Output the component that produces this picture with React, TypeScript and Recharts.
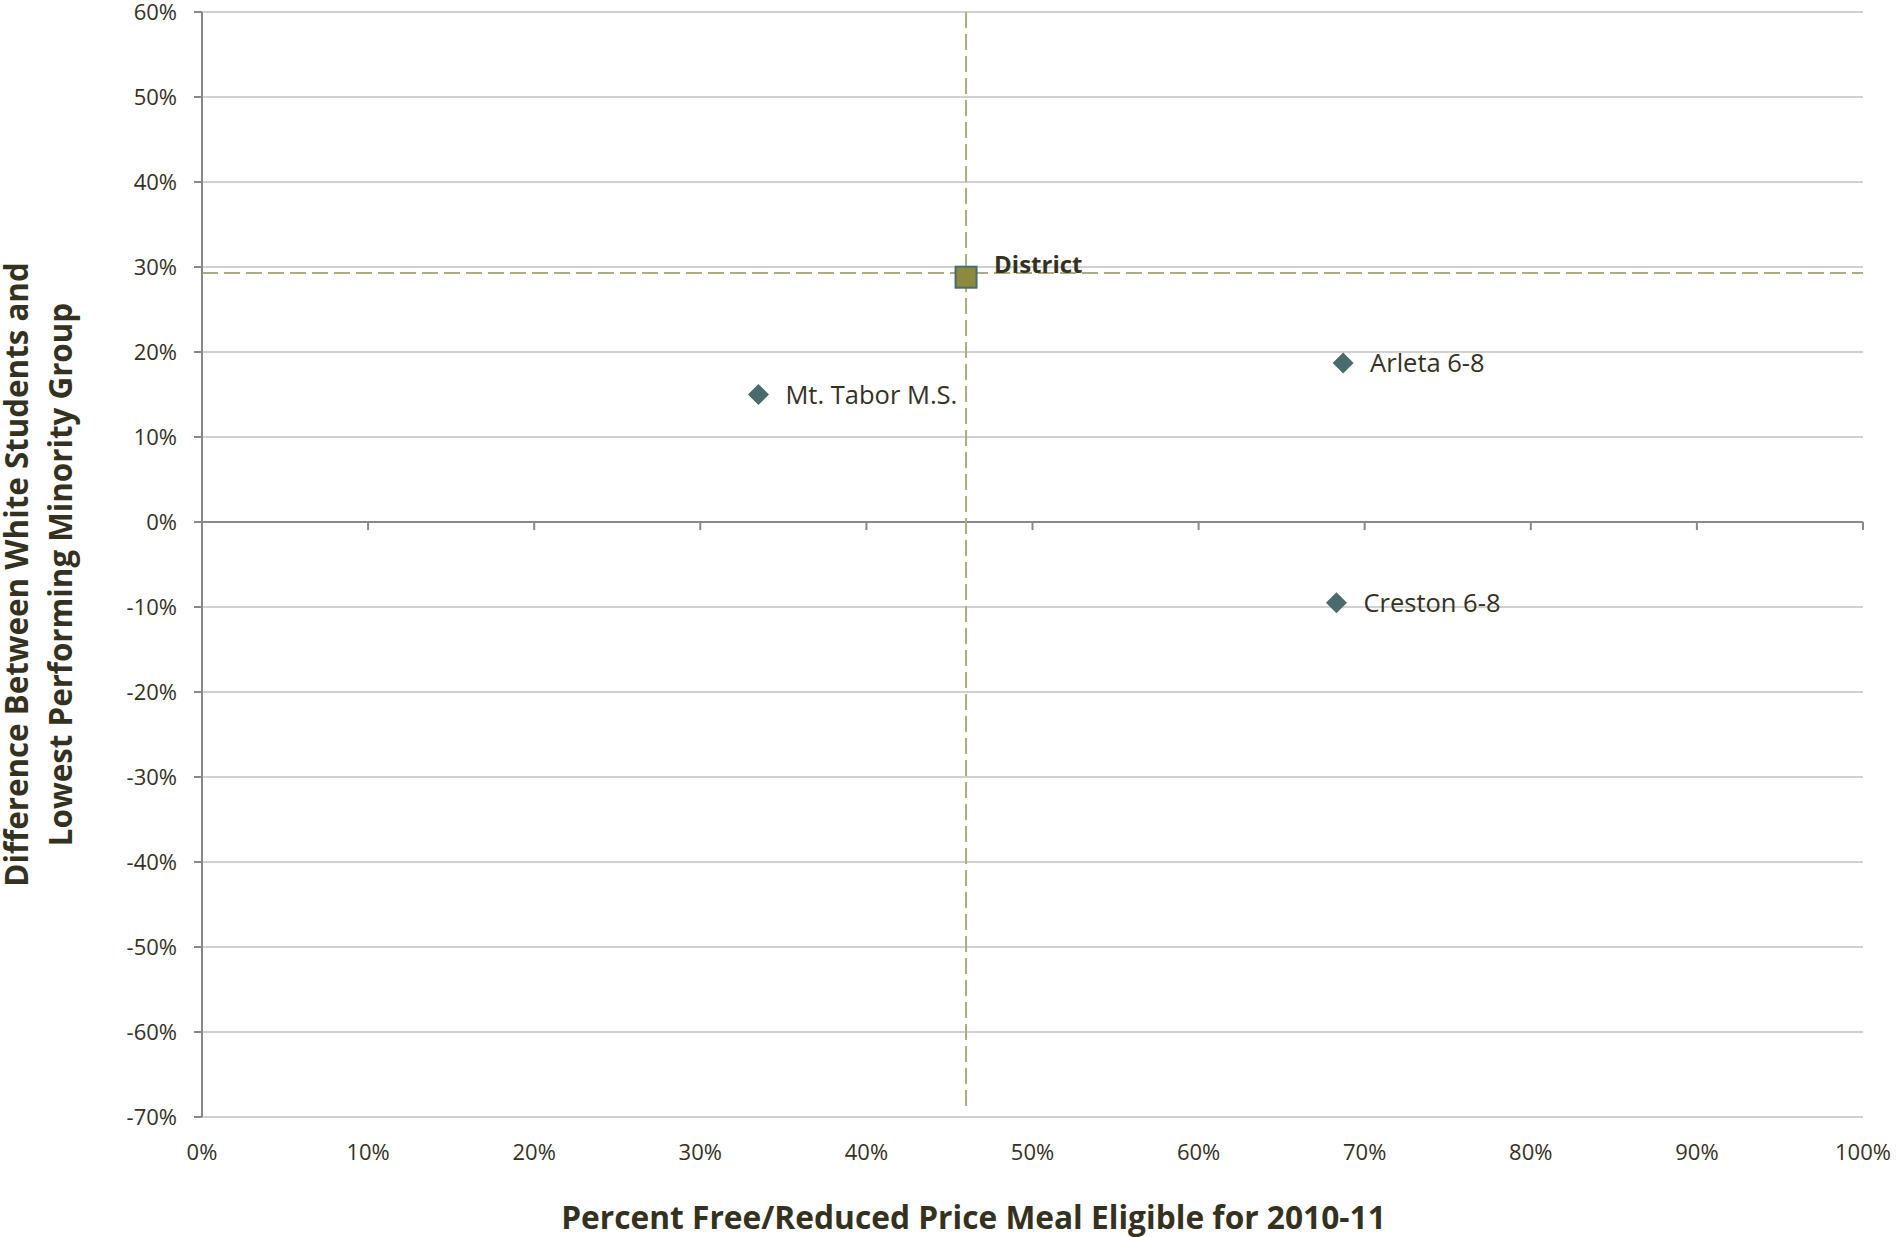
import React from 'react';
import {
  ScatterChart,
  Scatter,
  XAxis,
  YAxis,
  CartesianGrid,
  ReferenceLine,
  Label,
} from 'recharts';

// ---- Data ----
const schoolNames = ['Mt. Tabor M.S.', 'Arleta 6-8', 'Creston 6-8'];
const schoolFrl = [0.335, 0.687, 0.683];
const schoolGap = [0.15, 0.187, -0.095];

const districtNames = ['District'];
const districtFrl = [0.46];
const districtGap = [0.288];

const districtLineX = 0.46;
const districtLineY = 0.293;

const xTicks = [0, 0.1, 0.2, 0.3, 0.4, 0.5, 0.6, 0.7, 0.8, 0.9, 1.0];
const yTicks = [-0.7, -0.6, -0.5, -0.4, -0.3, -0.2, -0.1, 0, 0.1, 0.2, 0.3, 0.4, 0.5, 0.6];

const xTitle = 'Percent Free/Reduced Price Meal Eligible for 2010-11';
const yTitleLines = ['Difference Between White Students and', 'Lowest Performing Minority Group'];

const schoolData = schoolNames.map((name, i) => ({ name, x: schoolFrl[i], y: schoolGap[i] }));
const districtData = districtNames.map((name, i) => ({ name, x: districtFrl[i], y: districtGap[i] }));

const FONT = '"Open Sans", sans-serif';
const TEXT = '#35311f';
const pct = (v: number) => `${Math.round(v * 100)}%`;

const DiamondShape = (props: any) => {
  const { cx, cy, payload } = props;
  const r = 10.5;
  return (
    <g>
      <path
        d={`M${cx},${cy - r} L${cx + r},${cy} L${cx},${cy + r} L${cx - r},${cy} Z`}
        fill="#4a6b6b"
      />
      <text x={cx + 27} y={cy} dy="0.36em" fontFamily={FONT} fontSize={25.5} fill={TEXT}>
        {payload.name}
      </text>
    </g>
  );
};

const SquareShape = (props: any) => {
  const { cx, cy, payload } = props;
  const s = 21;
  return (
    <g>
      <rect x={cx - s / 2} y={cy - s / 2} width={s} height={s} fill="#8c8a3e" stroke="#4b6b6e" strokeWidth={2} />
      <text x={cx + 28} y={cy - 13} dy="0.36em" fontFamily={FONT} fontSize={24} fontWeight="bold" fill={TEXT}>
        {payload.name}
      </text>
    </g>
  );
};

const YTitle = (props: any) => {
  const vb = props.viewBox || { x: 0, y: 0, width: 0, height: 0 };
  const cy = vb.y + vb.height / 2 + 10;
  const xs = [vb.x + 28, vb.x + 72];
  return (
    <g>
      {yTitleLines.map((line, i) => (
        <text
          key={i}
          x={xs[i]}
          y={cy}
          transform={`rotate(-90, ${xs[i]}, ${cy})`}
          textAnchor="middle"
          fontFamily={FONT}
          fontSize={31.3}
          fontWeight="bold"
          fill={TEXT}
        >
          {line}
        </text>
      ))}
    </g>
  );
};

const XTitle = (props: any) => {
  const vb = props.viewBox || { x: 0, y: 0, width: 0, height: 0 };
  const cx = vb.x + vb.width / 2 - 59;
  return (
    <text
      x={cx}
      y={vb.y + 112}
      textAnchor="middle"
      fontFamily={FONT}
      fontSize={31.7}
      fontWeight="bold"
      fill={TEXT}
    >
      {xTitle}
    </text>
  );
};

export default function App() {
  return (
    <div style={{ position: 'absolute', left: 0, top: 0, background: '#fff' }}>
      <ScatterChart
        width={1896}
        height={1237}
        margin={{ top: 12, right: 33, left: 0, bottom: 0 }}
      >
        <CartesianGrid vertical={false} stroke="#c0c0c0" strokeWidth={1.5} />
        <XAxis
          type="number"
          dataKey="x"
          domain={[0, 1]}
          ticks={xTicks}
          tickFormatter={pct}
          axisLine={false}
          tickLine={false}
          tickSize={0}
          tickMargin={27}
          height={120}
          interval={0}
          tick={{ fontFamily: FONT, fontSize: 22, fill: TEXT }}
        >
          <Label content={<XTitle />} />
        </XAxis>
        <YAxis
          type="number"
          dataKey="y"
          domain={[-0.7, 0.6]}
          ticks={yTicks}
          tickFormatter={pct}
          width={202}
          axisLine={{ stroke: '#888888', strokeWidth: 2 }}
          tickLine={{ stroke: '#888888', strokeWidth: 2 }}
          tickSize={8}
          tickMargin={17}
          interval={0}
          tick={{ fontFamily: FONT, fontSize: 22, fill: TEXT }}
        >
          <Label content={<YTitle />} />
        </YAxis>
        <ReferenceLine y={0} stroke="#888888" strokeWidth={2} />
        {xTicks.map((t) => (
          <ReferenceLine
            key={`t${t}`}
            segment={[{ x: t, y: 0 }, { x: t, y: -0.0095 }]}
            stroke="#888888"
            strokeWidth={2}
          />
        ))}
        <ReferenceLine
          segment={[{ x: districtLineX, y: 0.6 }, { x: districtLineX, y: -0.687 }]}
          stroke="#aeac7e"
          strokeWidth={2}
          strokeDasharray="16 6"
        />
        <ReferenceLine
          y={districtLineY}
          stroke="#aeac7e"
          strokeWidth={2}
          strokeDasharray="16 6"
        />
        <Scatter data={schoolData} shape={<DiamondShape />} isAnimationActive={false} />
        <Scatter data={districtData} shape={<SquareShape />} isAnimationActive={false} />
      </ScatterChart>
    </div>
  );
}
